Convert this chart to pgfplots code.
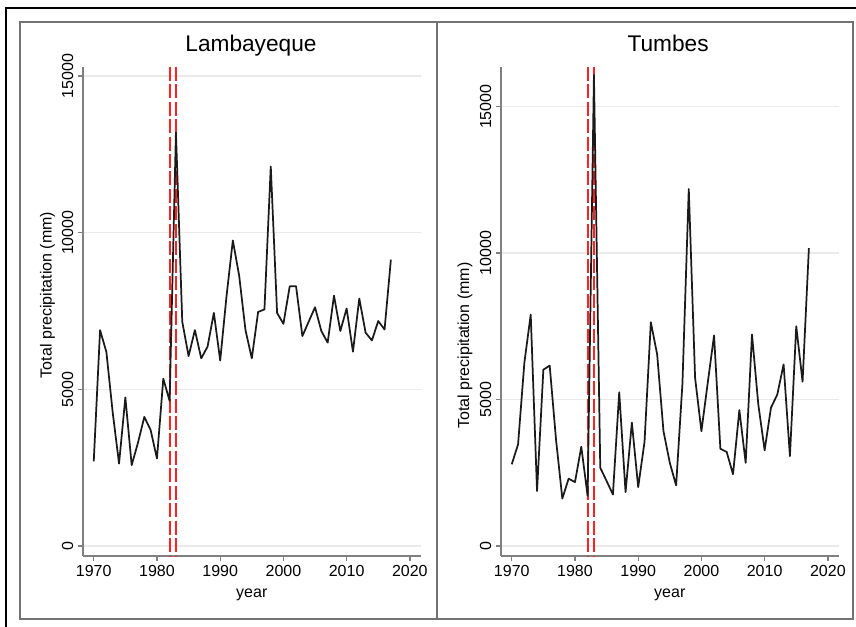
\documentclass[border=0pt]{standalone}
\usepackage{pgfplots}
\usepackage{pgfplotstable}
\pgfplotsset{compat=1.18}
\usepackage{fontspec}
\setmainfont{Liberation Sans}
\definecolor{axisgray}{HTML}{808080}
\definecolor{gridgray}{HTML}{EAEAEA}
\definecolor{framegray}{HTML}{737373}
\definecolor{linecol}{HTML}{1A1A1A}
\definecolor{xlinered}{HTML}{FF2020}

\pgfplotstableread{
year val
1970 2700
1971 6890
1972 6190
1973 4260
1974 2630
1975 4740
1976 2580
1977 3300
1978 4120
1979 3700
1980 2790
1981 5340
1982 4630
1983 13200
1984 7160
1985 6060
1986 6890
1987 5990
1988 6360
1989 7440
1990 5920
1991 7970
1992 9750
1993 8630
1994 6890
1995 5990
1996 7470
1997 7550
1998 12110
1999 7440
2000 7090
2001 8290
2002 8290
2003 6700
2004 7160
2005 7620
2006 6860
2007 6490
2008 7990
2009 6860
2010 7580
2011 6200
2012 7900
2013 6810
2014 6560
2015 7180
2016 6910
2017 9140
}\lamb

\pgfplotstableread{
year val
1970 2790
1971 3470
1972 6270
1973 7900
1974 1880
1975 6020
1976 6160
1977 3640
1978 1620
1979 2300
1980 2180
1981 3390
1982 1710
1983 16080
1984 2670
1985 2220
1986 1760
1987 5250
1988 1840
1989 4210
1990 2010
1991 3550
1992 7640
1993 6540
1994 3920
1995 2840
1996 2070
1997 5550
1998 12190
1999 5740
2000 3920
2001 5570
2002 7190
2003 3320
2004 3210
2005 2450
2006 4640
2007 2840
2008 7220
2009 4830
2010 3270
2011 4720
2012 5170
2013 6200
2014 3070
2015 7500
2016 5610
2017 10170
}\tumb

\pgfplotstableread{
x y
1982 15298
1982 -319
nan nan
1983 15298
1983 -319
}\xlinesL

\pgfplotstableread{
x y
1982 16366
1982 -341
nan nan
1983 16366
1983 -341
}\xlinesR

\pgfplotsset{
  stata/.style={
    scale only axis, anchor=south west,
    width=253.2pt, height=367pt,
    axis x line*=bottom, axis y line*=left,
    axis line style={axisgray, line width=1.2pt, -},
    xmin=1968.3, xmax=2021.7,
    xtick={1970,1980,...,2020},
    ytick={0,5000,10000,15000},
    ymajorgrids, major grid style={gridgray, line width=1pt},
    tick align=outside, major tick length=3.75pt,
    tick style={axisgray, line width=1pt},
    /pgf/number format/1000 sep={},
    /pgf/number format/assume math mode=true,
    scaled ticks=false,
    unbounded coords=jump,
    tick label style={font=\fontsize{12}{14}\selectfont, text=black},
    yticklabel style={rotate=90, anchor=south},
    label style={font=\fontsize{12}{14}\selectfont},
    title style={font=\fontsize{17}{20}\selectfont, anchor=base, yshift=0pt},
    xlabel={year},
    ylabel={Total precipitation (mm)},
    xlabel style={at={(axis description cs:0.5,-0.0838)}, anchor=base},
    clip=false,
  },
}

\begin{document}
\begin{tikzpicture}
\useasboundingbox (0,0) rectangle (642pt,470.25pt);
\fill[white] (0,0) rectangle (642pt,470.25pt);
\draw[black, line width=0.9pt] (4.5pt,0pt) -- (4.5pt,464.25pt) -- (642pt,464.25pt);
\draw[framegray, line width=1.2pt] (15pt,6pt) rectangle (327.75pt,453.75pt);
\draw[framegray, line width=1.2pt] (327.75pt,6pt) rectangle (639.75pt,453.75pt);

\begin{axis}[stata, at={(62.25pt,53.25pt)}, ymin=-319, ymax=15298,
  title={Lambayeque},
  title style={at={(axis description cs:0.4975,1.0137)}},
  ylabel style={at={(axis description cs:-0.1051,0.5334)}, anchor=center}]
\addplot[color=xlinered, line width=1.4pt, dash pattern=on 10.5pt off 2.6pt, mark=none] table[x=x,y=y]{\xlinesL};
\addplot[color=linecol, line width=1.3pt, line join=round, mark=none] table[x=year,y=val]{\lamb};
\end{axis}

\begin{axis}[stata, at={(375.75pt,53.25pt)}, ymin=-341, ymax=16366,
  title={Tumbes},
  title style={at={(axis description cs:0.495,1.0137)}},
  ylabel style={at={(axis description cs:-0.1067,0.43)}, anchor=center}]
\addplot[color=xlinered, line width=1.4pt, dash pattern=on 10.5pt off 2.6pt, mark=none] table[x=x,y=y]{\xlinesR};
\addplot[color=linecol, line width=1.3pt, line join=round, mark=none] table[x=year,y=val]{\tumb};
\end{axis}
\end{tikzpicture}
\end{document}
